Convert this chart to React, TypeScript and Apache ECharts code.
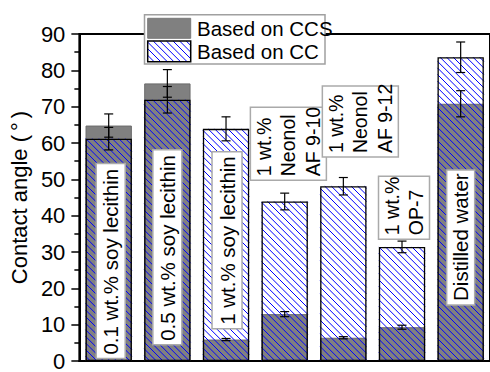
import React, { useEffect, useRef } from "react";
import * as echarts from "echarts";

// Surfactant samples along the x axis
const categories = [
  "0.1 wt.% soy lecithin",
  "0.5 wt.% soy lecithin",
  "1 wt.% soy lecithin",
  "1 wt.% Neonol AF 9-10",
  "1 wt.% Neonol AF 9-12",
  "1 wt.% OP-7",
  "Distilled water",
];

// Contact angle, degrees
const ccsValues = [64.8, 76.4, 5.9, 12.9, 6.4, 9.3, 70.8];
const ccsErrors = [3.2, 3.8, 0.3, 0.7, 0.3, 0.55, 3.6];
const ccValues = [61.2, 71.9, 63.9, 43.9, 48.1, 31.4, 83.6];
const ccErrors = [3.1, 3.65, 3.3, 2.3, 2.4, 1.6, 4.2];

const yTicks = [0, 10, 20, 30, 40, 50, 60, 70, 80, 90];

const seriesNames = ["Based on CCS", "Based on CC"];

// Annotation texts written inside each column
const noteTexts = [
  "0.1 wt.% soy lecithin",
  "0.5 wt.% soy lecithin",
  "1 wt.% soy lecithin",
  "1 wt.%\nNeonol\nAF 9-10",
  "1 wt.%\nNeonol\nAF 9-12",
  "1 wt.%\nOP-7",
  "Distilled water",
];

// Where each annotation box sits: value-axis centre, box length/thickness (px), x shift (px), font size
const notePlacement = [
  { y: 27.5, len: 195, thick: 29, dx: 2, font: 20.5 },
  { y: 31.3, len: 195, thick: 29, dx: 0, font: 20.5 },
  { y: 33.2, len: 177, thick: 30, dx: 1, font: 20.5 },
  { y: 59.8, len: 73, thick: 76, dx: 3.7, font: 19.5 },
  { y: 65.9, len: 71, thick: 76, dx: 17, font: 19.5 },
  { y: 42.2, len: 63, thick: 51, dx: 2, font: 19.5 },
  { y: 34.0, len: 135, thick: 28, dx: 0, font: 20.5 },
];

const FONT = "'Liberation Sans', Arial, sans-serif";
const GRAY = "#808080";
const HATCH_BLUE = "#0000ff";
const HATCH_STEP = 6.6;
const BAR_RATIO = 0.79;

// "\" hatch lines (x - y = const) clipped to a rectangle
function hatchLines(x0: number, y0: number, x1: number, y1: number, step: number) {
  const out: { x1: number; y1: number; x2: number; y2: number }[] = [];
  const cStart = Math.floor((x0 - y1) / step) * step;
  for (let c = cStart; c <= x1 - y0; c += step) {
    const xa = Math.max(x0, y0 + c);
    const xb = Math.min(x1, y1 + c);
    if (xb - xa > 0.2) out.push({ x1: xa, y1: xa - c, x2: xb, y2: xb - c });
  }
  return out;
}

function hatchElements(x0: number, y0: number, x1: number, y1: number) {
  return hatchLines(x0, y0, x1, y1, HATCH_STEP).map((s) => ({
    type: "line",
    shape: s,
    style: { stroke: HATCH_BLUE, lineWidth: 1 },
  }));
}

export default function App() {
  const ref = useRef<HTMLDivElement>(null);

  useEffect(() => {
    if (!ref.current) return;
    const chart = echarts.init(ref.current, undefined, { renderer: "svg" });

    const errorSeries = (name: string, vals: number[], errs: number[]) => ({
      type: "custom",
      name,
      z: 5,
      silent: true,
      clip: false,
      data: vals.map((v, i) => [i, v, errs[i]]),
      renderItem: (_p: any, api: any) => {
        const i = api.value(0);
        const v = api.value(1);
        const e = api.value(2);
        const hi = api.coord([i, v + e]);
        const lo = api.coord([i, v - e]);
        const x = hi[0];
        const half = 4.5;
        const st = { stroke: "#000", lineWidth: 1.2 };
        return {
          type: "group",
          children: [
            { type: "line", shape: { x1: x, y1: hi[1], x2: x, y2: lo[1] }, style: st },
            { type: "line", shape: { x1: x - half, y1: hi[1], x2: x + half, y2: hi[1] }, style: st },
            { type: "line", shape: { x1: x - half, y1: lo[1], x2: x + half, y2: lo[1] }, style: st },
          ],
        };
      },
    });

    // Legend geometry
    const sw = { x: 147.7, w: 43, y1: 18.3, h1: 20, y2: 41, h2: 20.7 };

    chart.setOption({
      animation: false,
      backgroundColor: "#fff",
      textStyle: { fontFamily: FONT },
      grid: {
        left: 72,
        top: 34,
        width: 420,
        height: 333.7,
        show: true,
        borderColor: "#000",
        borderWidth: 2,
        backgroundColor: "transparent",
      },
      graphic: [
        {
          type: "group",
          z: 100,
          silent: true,
          children: [
            {
              type: "rect",
              shape: { x: 144.5, y: 14.7, width: 180.5, height: 49.3 },
              style: { fill: "#fff", stroke: "#a0a0a0", lineWidth: 1.5 },
            },
            {
              type: "rect",
              shape: { x: sw.x, y: sw.y1, width: sw.w, height: sw.h1 },
              style: { fill: GRAY, stroke: "#7a7a7a", lineWidth: 1 },
            },
            ...hatchElements(sw.x, sw.y2, sw.x + sw.w, sw.y2 + sw.h2),
            {
              type: "rect",
              shape: { x: sw.x, y: sw.y2, width: sw.w, height: sw.h2 },
              style: { fill: "none", stroke: "#000", lineWidth: 1.5 },
            },
            {
              type: "text",
              style: {
                x: 197,
                y: 28.6,
                text: seriesNames[0],
                fontSize: 20.5,
                fontFamily: FONT,
                fill: "#000",
                verticalAlign: "middle",
              },
            },
            {
              type: "text",
              style: {
                x: 197,
                y: 51.6,
                text: seriesNames[1],
                fontSize: 20.5,
                fontFamily: FONT,
                fill: "#000",
                verticalAlign: "middle",
              },
            },
          ],
        },
      ],
      xAxis: {
        type: "category",
        data: categories,
        axisLine: { lineStyle: { color: "#000", width: 2 } },
        axisTick: { alignWithLabel: true, length: 5, lineStyle: { color: "#000", width: 1.5 } },
        axisLabel: { show: false },
        splitLine: { show: false },
      },
      yAxis: {
        type: "value",
        min: yTicks[0],
        max: yTicks[yTicks.length - 1],
        interval: 10,
        name: "Contact angle ({d|°})",
        nameLocation: "middle",
        nameGap: 38,
        nameRotate: 90,
        nameTextStyle: {
          fontSize: 22,
          color: "#000",
          fontFamily: FONT,
          rich: { d: { fontSize: 22, fontFamily: FONT, color: "#000", padding: [0, 4, 0, 4] } },
        },
        axisLine: { show: true, lineStyle: { color: "#000", width: 2 } },
        axisTick: { show: true, length: 8, lineStyle: { color: "#000", width: 1.5 } },
        minorTick: { show: true, splitNumber: 2, length: 5, lineStyle: { color: "#000", width: 1.5 } },
        axisLabel: { fontSize: 22, color: "#000", margin: 14, fontFamily: FONT },
        splitLine: { show: false },
      },
      series: [
        {
          type: "bar",
          name: seriesNames[0],
          z: 2,
          data: ccsValues,
          barWidth: BAR_RATIO * 100 + "%",
          barGap: "-100%",
          itemStyle: { color: GRAY, borderColor: "#6a6a6a", borderWidth: 1 },
        },
        {
          // hatch of the CC columns
          type: "custom",
          name: "ccHatch",
          z: 3,
          silent: true,
          clip: false,
          data: ccValues.map((v, i) => [i, v]),
          renderItem: (_p: any, api: any) => {
            const i = api.value(0);
            const top = api.coord([i, api.value(1)]);
            const base = api.coord([i, 0]);
            const w = api.size([1, 0])[0] * BAR_RATIO;
            return {
              type: "group",
              children: hatchElements(top[0] - w / 2, top[1], top[0] + w / 2, base[1]),
            };
          },
        },
        {
          type: "bar",
          name: seriesNames[1],
          z: 4,
          data: ccValues,
          barWidth: BAR_RATIO * 100 + "%",
          barGap: "-100%",
          itemStyle: {
            color: "rgba(0,0,0,0)",
            borderColor: "#000",
            borderWidth: 1.3,
          },
        },
        errorSeries("ccsErr", ccsValues, ccsErrors),
        errorSeries("ccErr", ccValues, ccErrors),
        {
          type: "custom",
          name: "notes",
          z: 6,
          silent: true,
          clip: false,
          data: notePlacement.map((p, i) => [i, p.y]),
          renderItem: (params: any, api: any) => {
            const idx = params.dataIndex;
            const p = notePlacement[idx];
            const c = api.coord([api.value(0), api.value(1)]);
            return {
              type: "group",
              x: c[0] + p.dx,
              y: c[1],
              rotation: Math.PI / 2,
              children: [
                {
                  type: "rect",
                  shape: { x: -p.len / 2, y: -p.thick / 2, width: p.len, height: p.thick },
                  style: { fill: "#fff", stroke: "#aaaaaa", lineWidth: 1.5 },
                },
                {
                  type: "text",
                  style: {
                    x: -p.len / 2 + 4,
                    y: 0,
                    text: noteTexts[idx],
                    align: "left",
                    verticalAlign: "middle",
                    fontSize: p.font,
                    lineHeight: 24.6,
                    fontFamily: FONT,
                    fill: "#000",
                  },
                },
              ],
            };
          },
        },
      ],
    });

    return () => chart.dispose();
  }, []);

  return (
    <div
      ref={ref}
      style={{ position: "fixed", left: 0, top: 0, width: 490, height: 372, background: "#fff" }}
    />
  );
}
